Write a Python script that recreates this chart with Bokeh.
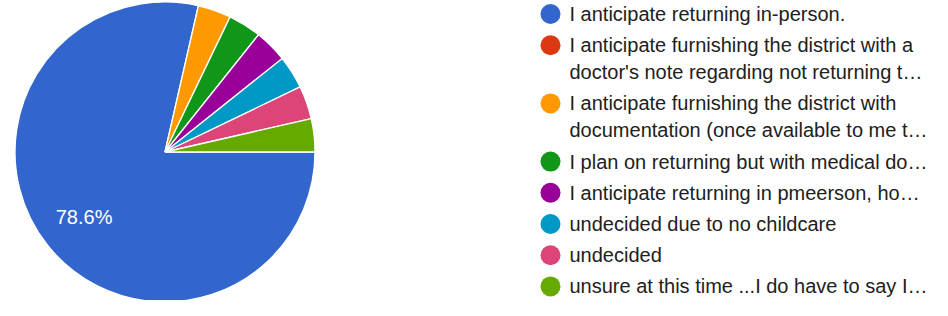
import numpy as np
from bokeh.plotting import figure
from bokeh.models import ColumnDataSource, Range1d
from bokeh.core.properties import value
from bokeh.embed import file_html
from bokeh.resources import INLINE

# ---- data ----
labels = [
    "I anticipate returning in-person.",
    "I anticipate furnishing the district with a\ndoctor's note regarding not returning t\u2026",
    "I anticipate furnishing the district with\ndocumentation (once available to me t\u2026",
    "I plan on returning but with medical do\u2026",
    "I anticipate returning in pmeerson, ho\u2026",
    "undecided due to no childcare",
    "undecided",
    "unsure at this time ...I do have to say I\u2026",
]
counts = [22, 0, 1, 1, 1, 1, 1, 1]
colors = ["#3366CC", "#DC3912", "#FF9900", "#109618",
          "#990099", "#0099C6", "#DD4477", "#66AA00"]

FONT = "Liberation Sans"
W, H = 932, 300

p = figure(width=W, height=H, x_range=Range1d(0, W), y_range=Range1d(0, H),
           output_backend="svg", toolbar_location=None, min_border=0)
p.axis.visible = False
p.grid.visible = False
p.outline_line_color = None
p.background_fill_color = "white"
p.border_fill_color = "white"

# ---- pie ----
cx, cy, R = 164.5, H - 151.5, 150.0
c = np.array(counts, dtype=float)
fr = c / c.sum()
cum = np.concatenate([[0.0], np.cumsum(fr)])
start = -cum[1:] * 2 * np.pi
end = -cum[:-1] * 2 * np.pi
mask = c > 0
pie_src = ColumnDataSource(dict(start=start[mask], end=end[mask],
                                color=[col for col, m in zip(colors, mask) if m]))
p.wedge(x=cx, y=cy, radius=R, start_angle="start", end_angle="end",
        fill_color="color", line_color="white", line_width=1.3, source=pie_src)

mid = (start + end) / 2
big = fr >= 0.05
lab_src = ColumnDataSource(dict(
    x=cx + 0.69 * R * np.cos(mid[big]),
    y=cy + 0.69 * R * np.sin(mid[big]),
    t=[f"{v * 100:.1f}%" for v in fr[big]]))
p.text(x="x", y="y", text="t", source=lab_src, text_color="white",
       text_font=value(FONT), text_font_size="20px",
       text_align="center", text_baseline="middle")

# ---- legend ----
top = H - 13.5
step, extra = 31.2, 27.0
dot_x, txt_x = 550.0, 569.0
dx, dy, dc, tx, ty, tt = [], [], [], [], [], []
nextra = 0
for i, (lab, col) in enumerate(zip(labels, colors)):
    y0 = top - step * i - extra * nextra
    dx.append(dot_x); dy.append(y0); dc.append(col)
    for j, line in enumerate(lab.split("\n")):
        tx.append(txt_x); ty.append(y0 - extra * j); tt.append(line)
    nextra += len(lab.split("\n")) - 1

p.scatter(x=dx, y=dy, color=dc, size=20, marker="circle", line_color=None)
p.text(x=tx, y=ty, text=tt, text_color="#212121", text_font=value(FONT),
       text_font_size="20px", text_align="left", text_baseline="middle")

open("out.html", "w").write(file_html(p, INLINE))
